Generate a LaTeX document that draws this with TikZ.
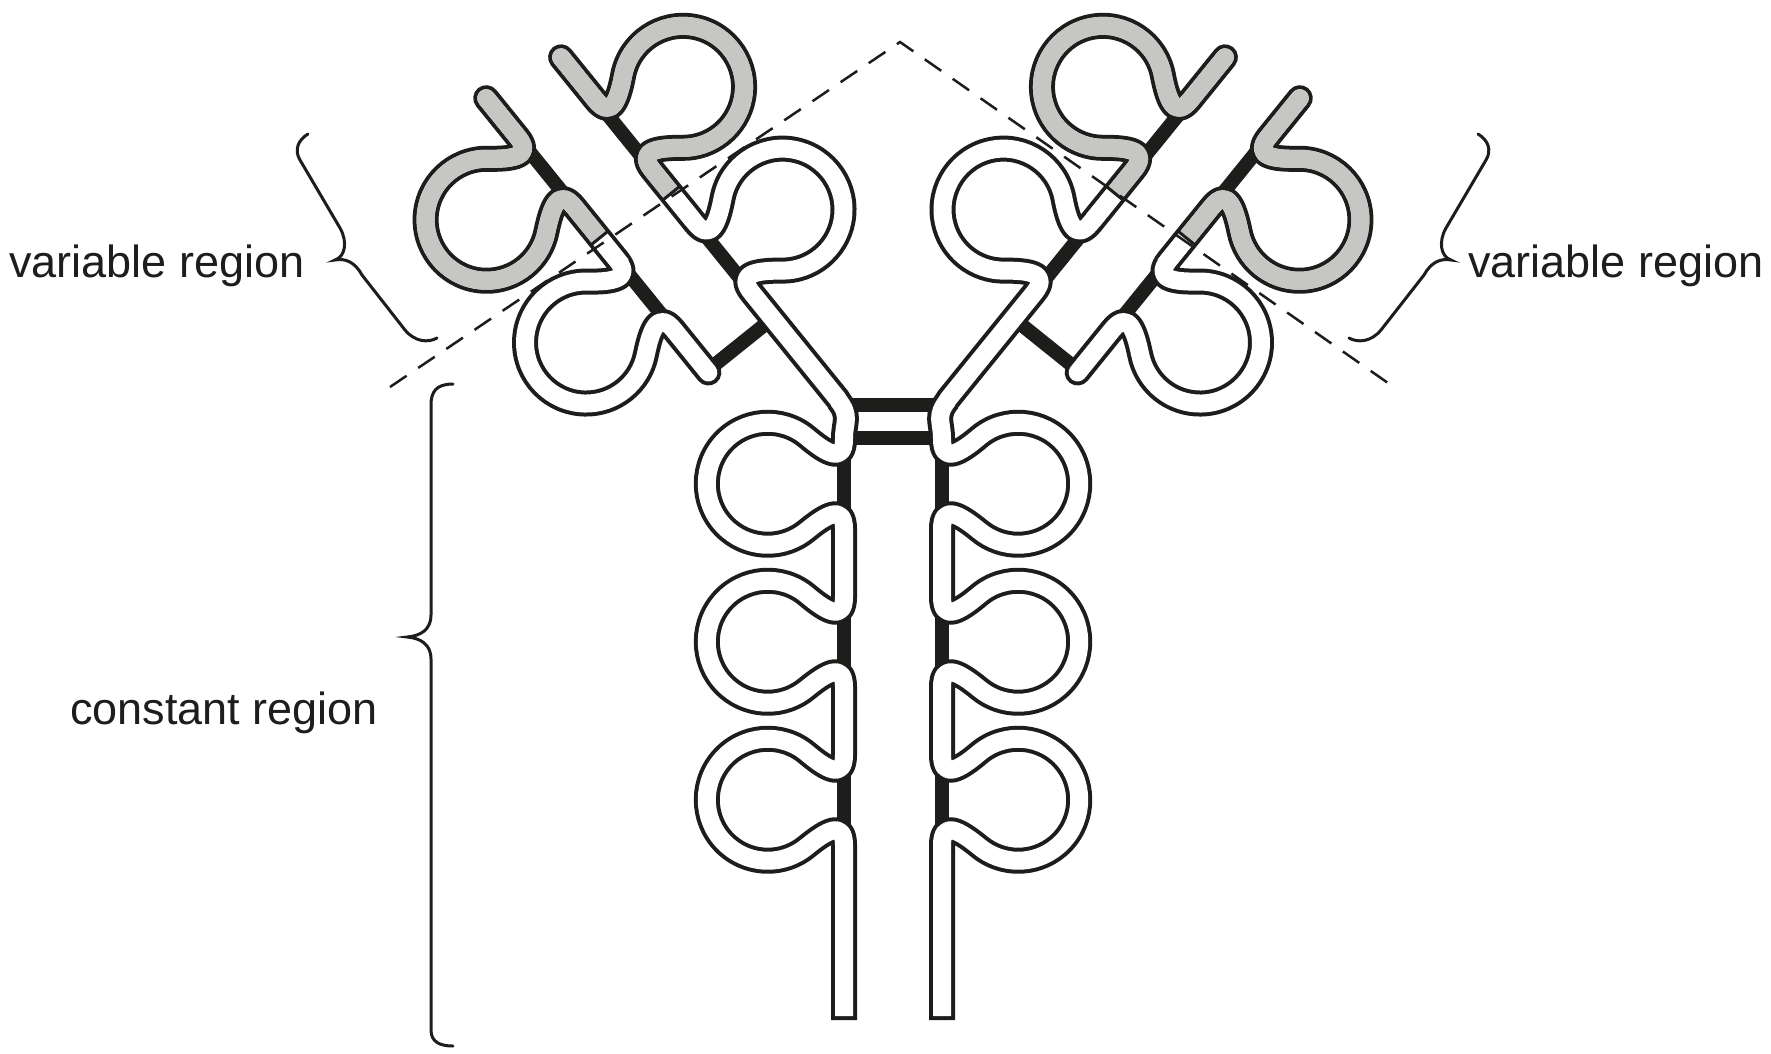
\documentclass[tikz,border=0pt]{standalone}
\usepackage{fontspec}
\setmainfont{Liberation Sans}
\definecolor{ink}{HTML}{1D1D1B}
\definecolor{vgray}{HTML}{C6C6C5}
\tikzset{
 tubeout/.style={draw=ink,line width=26pt,line join=round},
 tubein/.style={draw=white,line width=18pt,line join=round},
 tubegray/.style={draw=vgray,line width=18pt,line join=round,line cap=round},
 bond/.style={draw=ink,line width=14pt},
 bracepath/.style={draw=ink,line width=3pt,line cap=round},
 lbl/.style={font=\fontsize{45}{54}\selectfont,text=ink,inner sep=0pt}
}
\newcommand{\dom}[1]{-- (0,#1-45) .. controls (0,#1-20) and (-18,#1-31) .. (-37,#1-47) arc[start angle=310,end angle=50,radius=61] .. controls (-18,#1+31) and (0,#1+20) .. (0,#1+45)}
\newcommand{\lightpath}{(0,-95) \dom{0} \dom{158} -- (0,258)}
\newcommand{\fabheavy}{(0,-100) \dom{0} \dom{158} -- (0,340)}
\newcommand{\fcpath}[1]{(-6,-84) .. controls (7,-68) and (0,-62) .. (0,-46) \dom{0} \dom{158} \dom{316} -- (0,#1)}
\newcommand{\halfab}{%
 % bonds
 \draw[bond] (707,371) -- (773,318);
 \begin{scope}[shift={(546,172)},rotate=39]
  \draw[bond] (0,-40) -- (0,40); \draw[bond] (0,118) -- (0,198);
 \end{scope}
 \begin{scope}[shift={(624,135)},rotate=39,xscale=-1]
  \draw[bond] (0,-40) -- (0,40); \draw[bond] (0,118) -- (0,198);
 \end{scope}
 \begin{scope}[shift={(844,484)}]
  \draw[bond] (0,-40) -- (0,40); \draw[bond] (0,118) -- (0,198); \draw[bond] (0,276) -- (0,356);
 \end{scope}
 % light chain
 \begin{scope}[shift={(546,172)},rotate=39]
  \draw[tubeout,line cap=round] \lightpath;
  \draw[tubein,line cap=round] \lightpath;
  \draw[tubegray] (0,-95) \dom{0} -- (0,85);
  \draw[tubein,line cap=butt] (0,85) -- (0,120);
  \draw[draw=ink,line width=3pt] (-12,85) -- (12,85);
 \end{scope}
 % heavy chain
 \begin{scope}[shift={(624,135)},rotate=39,xscale=-1]
  \draw[tubeout,line cap=round] \fabheavy;
 \end{scope}
 \begin{scope}[shift={(844,484)}]
  \draw[tubeout,line cap=butt] \fcpath{536};
 \end{scope}
 \begin{scope}[shift={(624,135)},rotate=39,xscale=-1]
  \draw[tubein,line cap=round] \fabheavy;
  \draw[tubegray] (0,-100) \dom{0} -- (0,75);
  \draw[tubein,line cap=butt] (0,75) -- (0,110);
  \draw[draw=ink,line width=3pt] (-12,75) -- (12,75);
 \end{scope}
 \begin{scope}[shift={(844,484)}]
  \draw[tubein,line cap=butt] \fcpath{532};
 \end{scope}
 % brace
 \draw[bracepath] (308,134) .. controls (298,140) and (294,150) .. (300,160) -- (340,228) .. controls (348,242) and (345,257) .. (335,260) .. controls (345,258) and (355,262) .. (362,275) -- (405,330) .. controls (415,342) and (428,343) .. (437,338);
}
\begin{document}
\begin{tikzpicture}[x=1pt,y=-1pt]
\useasboundingbox (0,0) rectangle (1771,1053);
\fill[white] (0,0) rectangle (1771,1053);
\draw[bond] (844,405) -- (942,405);
\draw[bond] (844,438) -- (942,438);
\halfab
\begin{scope}[shift={(1786,0)},xscale=-1]
\halfab
\end{scope}
\draw[draw=ink,line width=2.5pt,dash pattern=on 20pt off 14pt] (390,387) -- (900,42) -- (1398,390);
\draw[bracepath] (453,384) .. controls (436,384) and (431,392) .. (431,405) -- (431,615) .. controls (431,630) and (420,636) .. (407,637) .. controls (420,638) and (431,644) .. (431,659) -- (431,1030) .. controls (431,1042) and (440,1046) .. (453,1046);
\node[lbl,anchor=base west] (vl) at (9,277) {variable region};
\node[lbl,anchor=base west] (vr) at (1468,277) {variable region};
\node[lbl,anchor=base west] (cr) at (70,724) {constant region};
\end{tikzpicture}
\end{document}
